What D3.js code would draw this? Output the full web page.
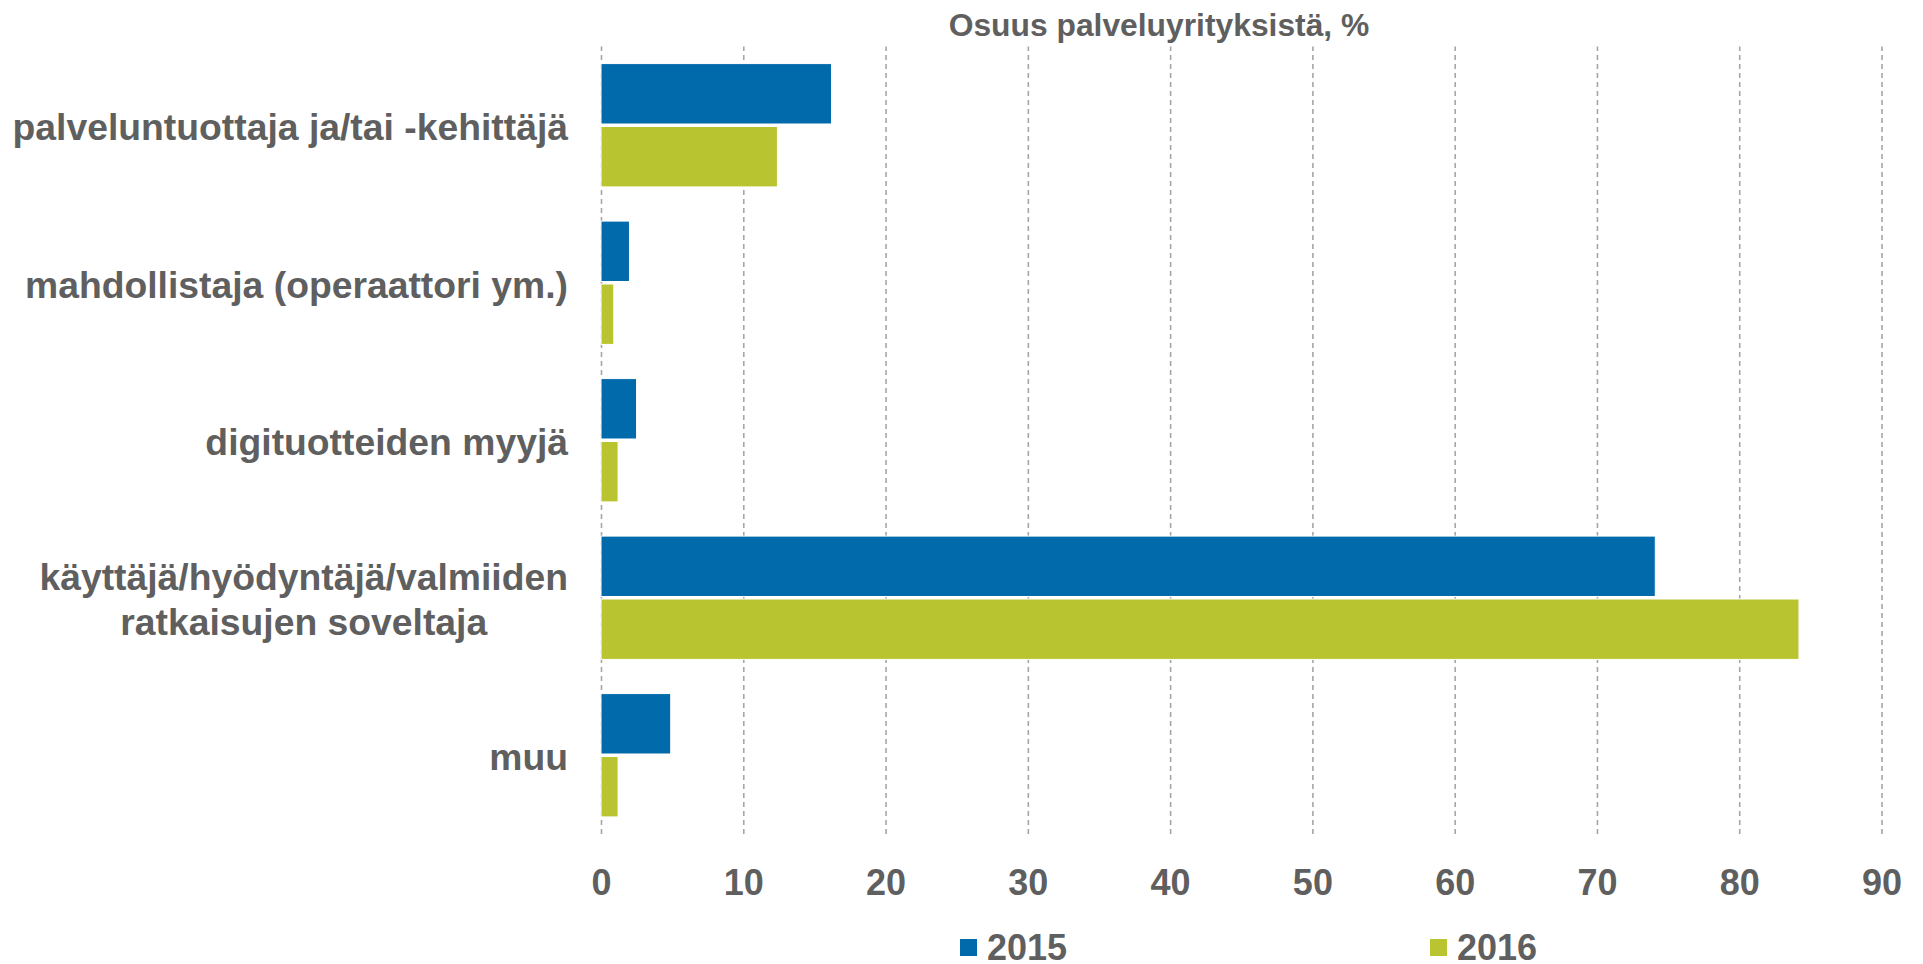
<!DOCTYPE html>
<html>
<head>
<meta charset="utf-8">
<script src="https://cdn.jsdelivr.net/npm/d3@7"></script>
<style>
  body { margin: 0; background: #fff; }
  svg text { font-family: "Liberation Sans", Arial, sans-serif; font-weight: bold; fill: #5f5f5f; }
</style>
</head>
<body>
<svg width="1923" height="964"></svg>
<script>
// categories (line breaks as in the original labels)
var categories = [
  "palveluntuottaja ja/tai -kehittäjä",
  "mahdollistaja (operaattori ym.)",
  "digituotteiden myyjä",
  "käyttäjä/hyödyntäjä/valmiiden\nratkaisujen soveltaja",
  "muu"
];
var years = ["2015", "2016"];
var values2015 = [16.2, 2.0, 2.5, 74.1, 4.9];
var values2016 = [12.4, 0.9, 1.2, 84.2, 1.2];
var xTicks = [0, 10, 20, 30, 40, 50, 60, 70, 80, 90];
var axisTitle = "Osuus palveluyrityksistä, %";

var colors = { "2015": "#006aaa", "2016": "#b8c430" };

var svg = d3.select("svg");

// plot box
var plotLeft = 601, plotRight = 1881.5, plotTop = 46.5, plotBottom = 834;

var x = d3.scaleLinear().domain([0, 90]).range([plotLeft, plotRight]);
var y = d3.scaleBand().domain(categories).range([plotTop, plotBottom])
    .paddingInner(0.217).paddingOuter(0.1085);
var ySub = d3.scaleBand().domain(years).range([0, y.bandwidth()]).paddingInner(0.04);

// dashed vertical gridlines
var xAxis = d3.axisBottom(x).tickValues(xTicks).tickSize(-(plotBottom - plotTop)).tickFormat(d3.format("d")).tickPadding(0);
var gx = svg.append("g").attr("transform", "translate(0," + plotBottom + ")").call(xAxis);
gx.select(".domain").remove();
gx.selectAll(".tick line")
  .attr("stroke", "#a6a6a6")
  .attr("stroke-width", 1.6)
  .attr("stroke-dasharray", "5,4");
gx.selectAll(".tick text")
  .attr("y", 61)
  .attr("dy", null)
  .attr("font-family", null)
  .attr("font-size", null)
  .style("font-size", "36px")
  .style("fill", "#5f5f5f");

// bars
var rows = categories.map(function(c, i) {
  return { cat: c, vals: [ { year: "2015", v: values2015[i] }, { year: "2016", v: values2016[i] } ] };
});

var groups = svg.append("g").selectAll("g").data(rows).enter().append("g")
  .attr("transform", function(d) { return "translate(0," + y(d.cat) + ")"; });

groups.selectAll("rect").data(function(d) { return d.vals; }).enter().append("rect")
  .attr("x", x(0))
  .attr("y", function(d) { return ySub(d.year); })
  .attr("width", function(d) { return x(d.v) - x(0); })
  .attr("height", ySub.bandwidth())
  .attr("fill", function(d) { return colors[d.year]; })
  .attr("stroke", "#ffffff")
  .attr("stroke-width", 1);

// category labels, right aligned, multi-line blocks centred on themselves
var labelRight = 568;
var lab = svg.append("g").selectAll("text").data(categories).enter().append("text")
  .style("font-size", "37.3px");

lab.each(function(c) {
  var t = d3.select(this);
  var lines = c.split("\n");
  var cy = y(c) + y.bandwidth() / 2 + 15;
  var lineH = 45;
  var first = cy - (lines.length - 1) * lineH / 2;
  var spans = lines.map(function(l, i) {
    return t.append("tspan").attr("y", first + i * lineH).text(l);
  });
  var w = d3.max(spans, function(s) { return s.node().getComputedTextLength(); });
  spans.forEach(function(s) {
    s.attr("x", labelRight - w / 2).attr("text-anchor", "middle");
  });
});

// axis title at top
svg.append("text")
  .attr("x", 1159)
  .attr("y", 36)
  .attr("text-anchor", "middle")
  .style("font-size", "31.8px")
  .text(axisTitle);

// legend
var legendX = [960, 1430];
var legend = svg.append("g").selectAll("g").data(years).enter().append("g")
  .attr("transform", function(d, i) { return "translate(" + legendX[i] + ",0)"; });
legend.append("rect")
  .attr("x", 0).attr("y", 939).attr("width", 17).attr("height", 17)
  .attr("fill", function(d) { return colors[d]; });
legend.append("text")
  .attr("x", 27).attr("y", 960)
  .style("font-size", "36px")
  .text(function(d) { return d; });
</script>
</body>
</html>
